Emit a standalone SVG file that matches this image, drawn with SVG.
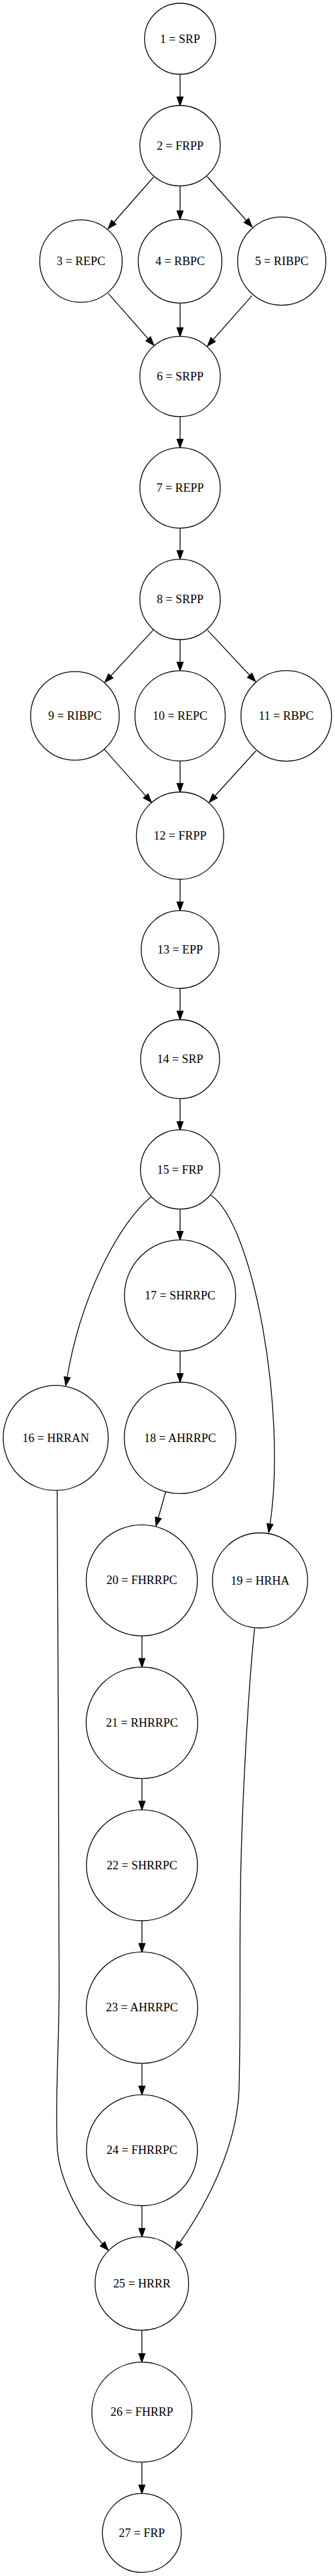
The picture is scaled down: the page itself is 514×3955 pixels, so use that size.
<svg xmlns="http://www.w3.org/2000/svg" width="514" height="3955" viewBox="0 0 514 3955">
<style>
.n circle{fill:#fff;stroke:#000;stroke-width:1.3}
.n text{font-family:"Liberation Serif","Times New Roman",serif;font-size:18.4px;text-anchor:middle;fill:#000}
.e path{fill:none;stroke:#000;stroke-width:1.3;marker-end:url(#ah)}
</style>
<defs>
<marker id="ah" markerUnits="userSpaceOnUse" markerWidth="14" markerHeight="10" refX="0" refY="5" orient="auto" overflow="visible">
<path d="M0,0.3 L13.1,5 L0,9.7 Z" fill="#000" stroke="#000" stroke-width="1.3"/>
</marker>
</defs>
<rect width="514" height="3955" fill="#fff"/>
<g id="edges" class="e">
<path d="M276.3,114 L276.3,148.9"/>
<path d="M235.7,271.7 L174.6,341.2"/>
<path d="M276.3,285.4 L276.3,323.8"/>
<path d="M317.7,271 L378,338.5"/>
<path d="M166,450.4 L227.4,520.2"/>
<path d="M276.3,465.3 L276.3,503.2"/>
<path d="M386.7,453.9 L327,521.4"/>
<path d="M276.3,639.7 L276.3,674.3"/>
<path d="M276.3,810.8 L276.3,845.5"/>
<path d="M235,967.4 L169.9,1037.7"/>
<path d="M276.3,982 L276.3,1016.7"/>
<path d="M318.3,967.4 L383.1,1036.8"/>
<path d="M160,1150.4 L223.6,1221.9"/>
<path d="M276.3,1168.4 L276.3,1202.9"/>
<path d="M392.7,1152.7 L329.8,1222"/>
<path d="M276.3,1350 L276.3,1385"/>
<path d="M276.3,1517.5 L276.3,1552.4"/>
<path d="M276.3,1686.7 L276.3,1722.1"/>
<path d="M232,1837.5 C185,1875 125,1985 103.1,2114.5"/>
<path d="M276.3,1856.4 L276.3,1890.6"/>
<path d="M323.3,1834.8 C390,1880 440,2170 414.3,2339.8"/>
<path d="M276.3,2074.3 L276.3,2108.9"/>
<path d="M87.7,2288.4 C88.7,2540 90.7,2800 90.7,3050 C90.5,3150 84,3230 88,3300 C92,3350 125,3410 157.3,3445.1"/>
<path d="M254,2291 L242.9,2330.3"/>
<path d="M390.7,2499.6 C382,2580 372,2750 369.3,2880 C367,3000 369.5,3100 367,3200 C366,3290 320,3380 275.7,3443.4"/>
<path d="M217.8,2511.8 L217.8,2546.4"/>
<path d="M217.8,2730.7 L217.8,2765.5"/>
<path d="M217.8,2949 L217.8,2984"/>
<path d="M217.8,3168.1 L217.8,3203"/>
<path d="M217.8,3386.5 L217.8,3421.3"/>
<path d="M217.7,3578 L217.7,3613.6"/>
<path d="M217.7,3780.3 L217.7,3815.3"/>
</g>
<g id="n1" class="n"><circle cx="276.3" cy="59.5" r="54.5"/><text x="276.3" y="65.5">1 = SRP</text></g>
<g id="n2" class="n"><circle cx="276.3" cy="223.7" r="61.7"/><text x="276.3" y="229.7">2 = FRPP</text></g>
<g id="n3" class="n"><circle cx="124.2" cy="400.9" r="63.3"/><text x="124.2" y="406.9">3 = REPC</text></g>
<g id="n4" class="n"><circle cx="276.3" cy="401.1" r="64.2"/><text x="276.3" y="407.1">4 = RBPC</text></g>
<g id="n5" class="n"><circle cx="432.3" cy="400.9" r="67.7"/><text x="432.3" y="406.9">5 = RIBPC</text></g>
<g id="n6" class="n"><circle cx="276.3" cy="578" r="61.7"/><text x="276.3" y="584">6 = SRPP</text></g>
<g id="n7" class="n"><circle cx="276.3" cy="749.1" r="61.7"/><text x="276.3" y="755.1">7 = REPP</text></g>
<g id="n8" class="n"><circle cx="276.3" cy="920.3" r="61.7"/><text x="276.3" y="926.3">8 = SRPP</text></g>
<g id="n9" class="n"><circle cx="115" cy="1099.1" r="68"/><text x="115" y="1105.1">9 = RIBPC</text></g>
<g id="n10" class="n"><circle cx="276.3" cy="1099.1" r="69.3"/><text x="276.3" y="1105.1">10 = REPC</text></g>
<g id="n11" class="n"><circle cx="439.2" cy="1099.1" r="69.5"/><text x="439.2" y="1105.1">11 = RBPC</text></g>
<g id="n12" class="n"><circle cx="276.3" cy="1283" r="67"/><text x="276.3" y="1289">12 = FRPP</text></g>
<g id="n13" class="n"><circle cx="276.3" cy="1457.8" r="59.7"/><text x="276.3" y="1463.8">13 = EPP</text></g>
<g id="n14" class="n"><circle cx="276.3" cy="1626.1" r="60.6"/><text x="276.3" y="1632.1">14 = SRP</text></g>
<g id="n15" class="n"><circle cx="276.3" cy="1795.5" r="60.8"/><text x="276.3" y="1801.5">15 = FRP</text></g>
<g id="n16" class="n"><circle cx="85.5" cy="2207.8" r="80.6"/><text x="85.5" y="2213.8">16 = HRRAN</text></g>
<g id="n17" class="n"><circle cx="276.3" cy="1989" r="85.3"/><text x="276.3" y="1995">17 = SHRRPC</text></g>
<g id="n18" class="n"><circle cx="276.3" cy="2207.6" r="85.6"/><text x="276.3" y="2213.6">18 = AHRRPC</text></g>
<g id="n19" class="n"><circle cx="399" cy="2426.5" r="73"/><text x="399" y="2432.5">19 = HRHA</text></g>
<g id="n20" class="n"><circle cx="217.6" cy="2426.4" r="85.3"/><text x="217.6" y="2432.4">20 = FHRRPC</text></g>
<g id="n21" class="n"><circle cx="217.8" cy="2645.1" r="85.6"/><text x="217.8" y="2651.1">21 = RHRRPC</text></g>
<g id="n22" class="n"><circle cx="217.8" cy="2863.8" r="85.2"/><text x="217.8" y="2869.8">22 = SHRRPC</text></g>
<g id="n23" class="n"><circle cx="217.8" cy="3082.4" r="85.5"/><text x="217.8" y="3088.4">23 = AHRRPC</text></g>
<g id="n24" class="n"><circle cx="217.8" cy="3301.3" r="85.2"/><text x="217.8" y="3307.3">24 = FHRRPC</text></g>
<g id="n25" class="n"><circle cx="217.7" cy="3505.9" r="71.8"/><text x="217.7" y="3511.9">25 = HRRR</text></g>
<g id="n26" class="n"><circle cx="217.7" cy="3703.4" r="76.8"/><text x="217.7" y="3709.4">26 = FHRRP</text></g>
<g id="n27" class="n"><circle cx="217.7" cy="3888.9" r="60.5"/><text x="217.7" y="3894.9">27 = FRP</text></g>
</svg>
